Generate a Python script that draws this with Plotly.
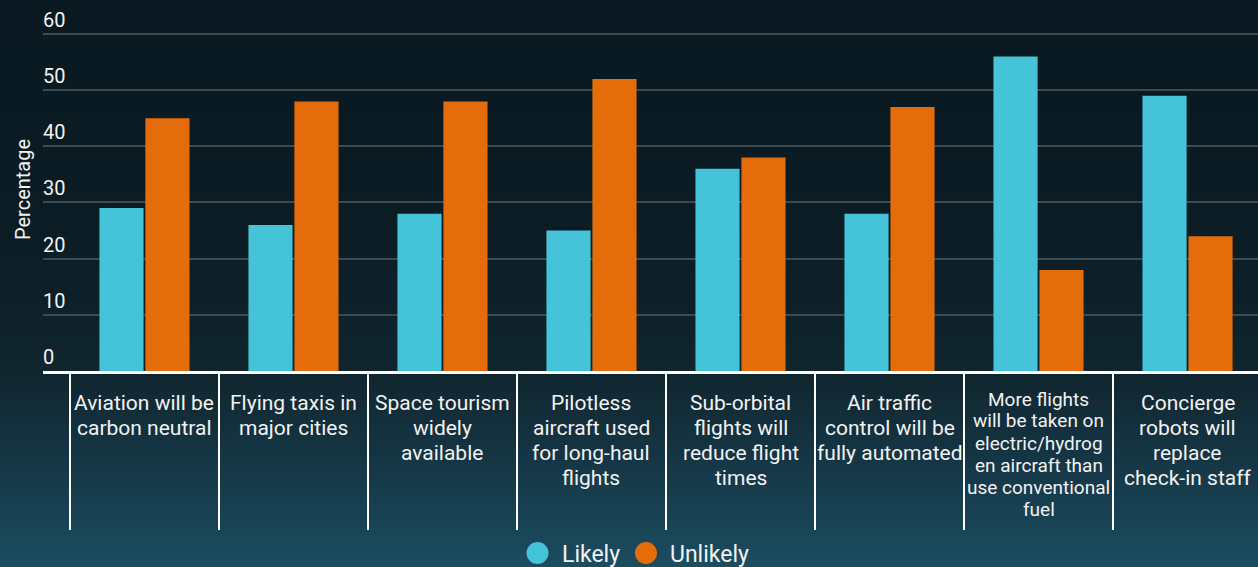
import base64, struct, zlib
import plotly.graph_objects as go

categories = [
    "Aviation will be<br>carbon neutral",
    "Flying taxis in<br>major cities",
    "Space tourism<br>widely<br>available",
    "Pilotless<br>aircraft used<br>for long-haul<br>flights",
    "Sub-orbital<br>flights will<br>reduce flight<br>times",
    "Air traffic<br>control will be<br>fully automated",
    "More flights<br>will be taken on<br>electric/hydrog<br>en aircraft than<br>use conventional<br>fuel",
    "Concierge<br>robots will<br>replace<br>check-in staff",
]
likely = [29, 26, 28, 25, 36, 28, 56, 49]
unlikely = [45, 48, 48, 52, 38, 47, 18, 24]
series_names = ["Likely", "Unlikely"]
colors = ["#45c3d8", "#e46c0a"]
ytick_vals = [0, 10, 20, 30, 40, 50, 60]

W, H = 1258, 567
L, B = 43, 196
PW, PH = W - L, H - B


def px_x(p):
    return (p - L) / PW


def px_y(p):
    return (PH - p) / PH


def gradient_png(h, stops):
    def col(y):
        for (y0, c0), (y1, c1) in zip(stops, stops[1:]):
            if y0 <= y <= y1:
                t = (y - y0) / (y1 - y0) if y1 > y0 else 0
                return bytes(int(round(a + (b - a) * t)) for a, b in zip(c0, c1))
        return bytes(stops[-1][1])
    raw = b"".join(b"\x00" + col(y) for y in range(h))

    def chunk(tag, data):
        c = tag + data
        return struct.pack(">I", len(data)) + c + struct.pack(">I", zlib.crc32(c) & 0xffffffff)
    png = b"\x89PNG\r\n\x1a\n" + chunk(b"IHDR", struct.pack(">IIBBBBB", 1, h, 8, 2, 0, 0, 0))
    png += chunk(b"IDAT", zlib.compress(raw, 9)) + chunk(b"IEND", b"")
    return "data:image/png;base64," + base64.b64encode(png).decode()


bg = gradient_png(H, [(0, (10, 25, 33)), (230, (11, 28, 37)), (370, (16, 37, 46)),
                      (470, (22, 56, 72)), (567, (27, 77, 96))])

n = len(categories)
xs = list(range(n))
fig = go.Figure()
for name, vals, c in zip(series_names, [likely, unlikely], colors):
    fig.add_trace(go.Bar(x=xs, y=vals, name=name, marker=dict(color=c, line=dict(width=0)),
                         showlegend=False))

shapes = []
for i in range(n + 1):
    shapes.append(dict(type="line", xref="x", yref="paper", x0=i - 0.5, x1=i - 0.5,
                       y0=px_y(PH + 2), y1=px_y(530), line=dict(color="white", width=2)))

annotations = []
for i, lab in enumerate(categories):
    small = i == 6
    lines = lab.split("<br>")
    y0, step, fs = (399, 22, 19) if small else (403, 25, 21)
    for k, line in enumerate(lines):
        annotations.append(dict(xref="x", yref="paper", x=i, y=px_y(y0 + step * k),
                                text=line, showarrow=False, xanchor="center", yanchor="middle",
                                font=dict(family="Roboto", size=fs, color="#f2f2f2")))
annotations.append(dict(xref="paper", yref="paper", x=px_x(23), y=px_y(190),
                        text="Percentage", textangle=-90, showarrow=False,
                        xanchor="center", yanchor="middle",
                        font=dict(family="Roboto", size=20, color="#f2f2f2")))

# legend (circle markers + labels)
leg_circles = [537.5, 646]
leg_text_x = [560, 668]
for name, c, cx, tx in zip(series_names, colors, leg_circles, leg_text_x):
    shapes.append(dict(type="circle", xref="paper", yref="paper", xsizemode="pixel", ysizemode="pixel",
                       xanchor=px_x(cx), yanchor=px_y(553), x0=-11, x1=11, y0=-11, y1=11,
                       fillcolor=c, line=dict(width=0)))
    annotations.append(dict(xref="paper", yref="paper", x=px_x(tx), y=px_y(554), text=name,
                            showarrow=False, xanchor="left", yanchor="middle",
                            font=dict(family="Roboto", size=23, color="#f2f2f2")))

fig.update_layout(
    width=W, height=H,
    margin=dict(l=L, r=0, t=0, b=B, autoexpand=False),
    paper_bgcolor="#0a1921", plot_bgcolor="rgba(0,0,0,0)",
    images=[dict(source=bg, xref="paper", yref="paper", x=-L / PW, y=1, sizex=W / PW, sizey=H / PH,
                 sizing="stretch", layer="below", xanchor="left", yanchor="top")],
    barmode="group", bargap=0.383, bargroupgap=0.04,
    font=dict(family="Roboto", color="#f2f2f2"),
    showlegend=False,
    xaxis=dict(range=[-0.681, 7.473], showticklabels=False, ticks="", showgrid=False,
               showline=True, linecolor="white", linewidth=3, zeroline=False, fixedrange=True),
    yaxis=dict(range=[0, 66.05], tickvals=ytick_vals, ticklabelposition="inside top",
               ticklabelstandoff=-3,
               tickfont=dict(family="Roboto", size=20, color="#f2f2f2"),
               gridcolor="#3c4a52", gridwidth=2, zeroline=False, showline=False, ticks=""),
    shapes=shapes, annotations=annotations,
)
fig.write_html("out.html")
